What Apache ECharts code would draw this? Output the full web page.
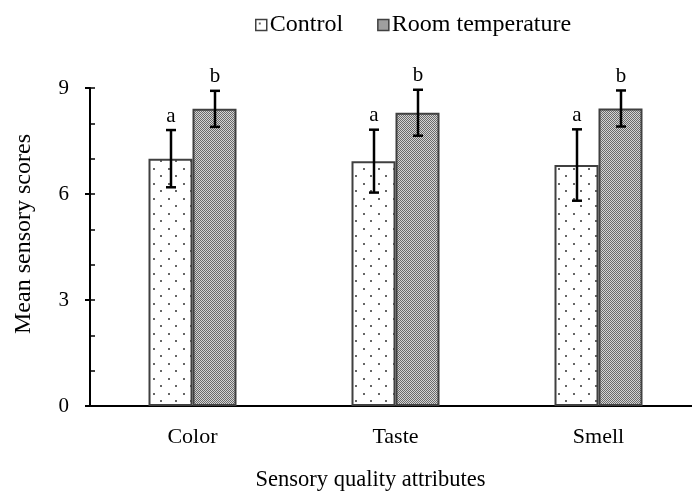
<!DOCTYPE html>
<html>
<head>
<meta charset="utf-8">
<script src="https://cdn.jsdelivr.net/npm/echarts@6/dist/echarts.min.js"></script>
<style>
  html, body { margin: 0; padding: 0; background: #fff; }
  #chart { width: 692px; height: 495px; }
</style>
</head>
<body>
<div id="chart"></div>
<script>
// data
const categories = ['Color', 'Taste', 'Smell']
const controlMean = [7.0, 6.93, 6.82]
const controlErr = [0.81, 0.89, 1.01]
const roomMean = [8.41, 8.30, 8.42]
const roomErr = [0.51, 0.65, 0.51]
const controlLetters = ['a', 'a', 'a']
const roomLetters = ['b', 'b', 'b']
const yTicks = [0, 3, 6, 9]

const FONT = '"Liberation Serif", "Times New Roman", serif'
const BAR_W = 44

// sparse dot fill for the control bars
function dotPattern () {
  let c = document.createElement('canvas')
  c.width = 15
  c.height = 15
  let ctx = c.getContext('2d')
  ctx.fillStyle = '#fff'
  ctx.fillRect(0, 0, 15, 15)
  ctx.fillStyle = '#666'
  ctx.fillRect(3, 3, 2, 2)
  ctx.fillRect(10, 10, 2, 2)
  return c
}
// fine checker fill for the room temperature bars
function checkPattern () {
  let c = document.createElement('canvas')
  c.width = 2
  c.height = 2
  let ctx = c.getContext('2d')
  ctx.fillStyle = '#d4d4d4'
  ctx.fillRect(0, 0, 2, 2)
  ctx.fillStyle = '#6a6a6a'
  ctx.fillRect(0, 0, 1, 1)
  ctx.fillRect(1, 1, 1, 1)
  return c
}

// error bar + significance letter, shifted to the bar centre
function errorSeries (means, errs, letters, shift) {
  let data = means.map((m, i) => [i, m, errs[i]])
  return {
    type: 'custom',
    silent: true,
    z: 5,
    data: data,
    renderItem: function (params, api) {
      let i = api.value(0)
      let m = api.value(1)
      let e = api.value(2)
      let top = api.coord([i, m + e])
      let bot = api.coord([i, m - e])
      let x = Math.round(top[0] + shift)
      let cap = 5
      let style = { stroke: '#000', lineWidth: 2.5 }
      return {
        type: 'group',
        children: [
          { type: 'line', shape: { x1: x, y1: top[1], x2: x, y2: bot[1] }, style: style },
          { type: 'line', shape: { x1: x - cap, y1: top[1], x2: x + cap, y2: top[1] }, style: style },
          { type: 'line', shape: { x1: x - cap, y1: bot[1], x2: x + cap, y2: bot[1] }, style: style },
          {
            type: 'text',
            x: x,
            y: top[1] - 14,
            style: {
              text: letters[params.dataIndex],
              fill: '#000',
              font: '21px ' + FONT,
              align: 'center',
              verticalAlign: 'middle'
            }
          }
        ]
      }
    }
  }
}

let chart = echarts.init(document.getElementById('chart'), null, { renderer: 'canvas' })
let option = {
  animation: false,
  textStyle: { fontFamily: FONT, color: '#000' },
  legend: {
    top: 8,
    left: 250,
    itemWidth: 11,
    itemHeight: 11,
    itemGap: 34,
    icon: 'rect',
    textStyle: { fontFamily: FONT, fontSize: 24, color: '#000', padding: [0, 0, 0, -2] },
    itemStyle: { borderWidth: 1.5 },
    data: ['Control', 'Room temperature']
  },
  // keep the plot where it is, labels may sit near the edge
  grid: { left: 91, top: 88, width: 609, height: 318, outerBoundsMode: 'none', containLabel: false },
  xAxis: {
    type: 'category',
    data: categories,
    name: 'Sensory quality attributes',
    nameLocation: 'middle',
    nameGap: 63,
    nameTextStyle: { fontFamily: FONT, fontSize: 22.5, color: '#000', padding: [0, 50, 0, 0] },
    axisLine: { lineStyle: { color: '#000', width: 2 } },
    axisTick: { inside: true, length: 6, lineStyle: { color: '#000', width: 1.5 } },
    axisLabel: { margin: 20, fontFamily: FONT, fontSize: 22, color: '#000' },
    splitLine: { show: false }
  },
  yAxis: [
    {
      type: 'value',
      min: yTicks[0],
      max: yTicks[yTicks.length - 1],
      interval: 3,
      offset: 1,
      name: 'Mean sensory scores',
      nameLocation: 'middle',
      nameGap: 54,
      nameTextStyle: { fontFamily: FONT, fontSize: 24, color: '#000', padding: [0, 0, 0, 26] },
      axisLine: { show: true, lineStyle: { color: '#000', width: 2 } },
      axisTick: { show: true, length: 5, lineStyle: { color: '#000', width: 2 } },
      axisLabel: { margin: 21, fontFamily: FONT, fontSize: 21, color: '#000' },
      splitLine: { show: false }
    },
    {
      // inside ticks at every unit (the minor ticks of the picture)
      type: 'value',
      position: 'left',
      offset: 1,
      min: 0,
      max: 9,
      interval: 1,
      axisLine: { show: false },
      axisTick: { show: true, inside: true, length: 5, lineStyle: { color: '#000', width: 1.5 } },
      axisLabel: { show: false },
      splitLine: { show: false }
    }
  ],
  series: [
    {
      name: 'Control',
      type: 'bar',
      barWidth: BAR_W,
      barGap: '0%',
      data: controlMean,
      itemStyle: {
        color: { image: dotPattern(), repeat: 'repeat' },
        borderColor: '#404040',
        borderWidth: 2
      }
    },
    {
      name: 'Room temperature',
      type: 'bar',
      barWidth: BAR_W,
      barGap: '0%',
      data: roomMean,
      itemStyle: {
        color: { image: checkPattern(), repeat: 'repeat' },
        borderColor: '#404040',
        borderWidth: 2
      }
    },
    errorSeries(controlMean, controlErr, controlLetters, -BAR_W / 2),
    errorSeries(roomMean, roomErr, roomLetters, BAR_W / 2)
  ]
}
chart.setOption(option)
</script>
</body>
</html>
